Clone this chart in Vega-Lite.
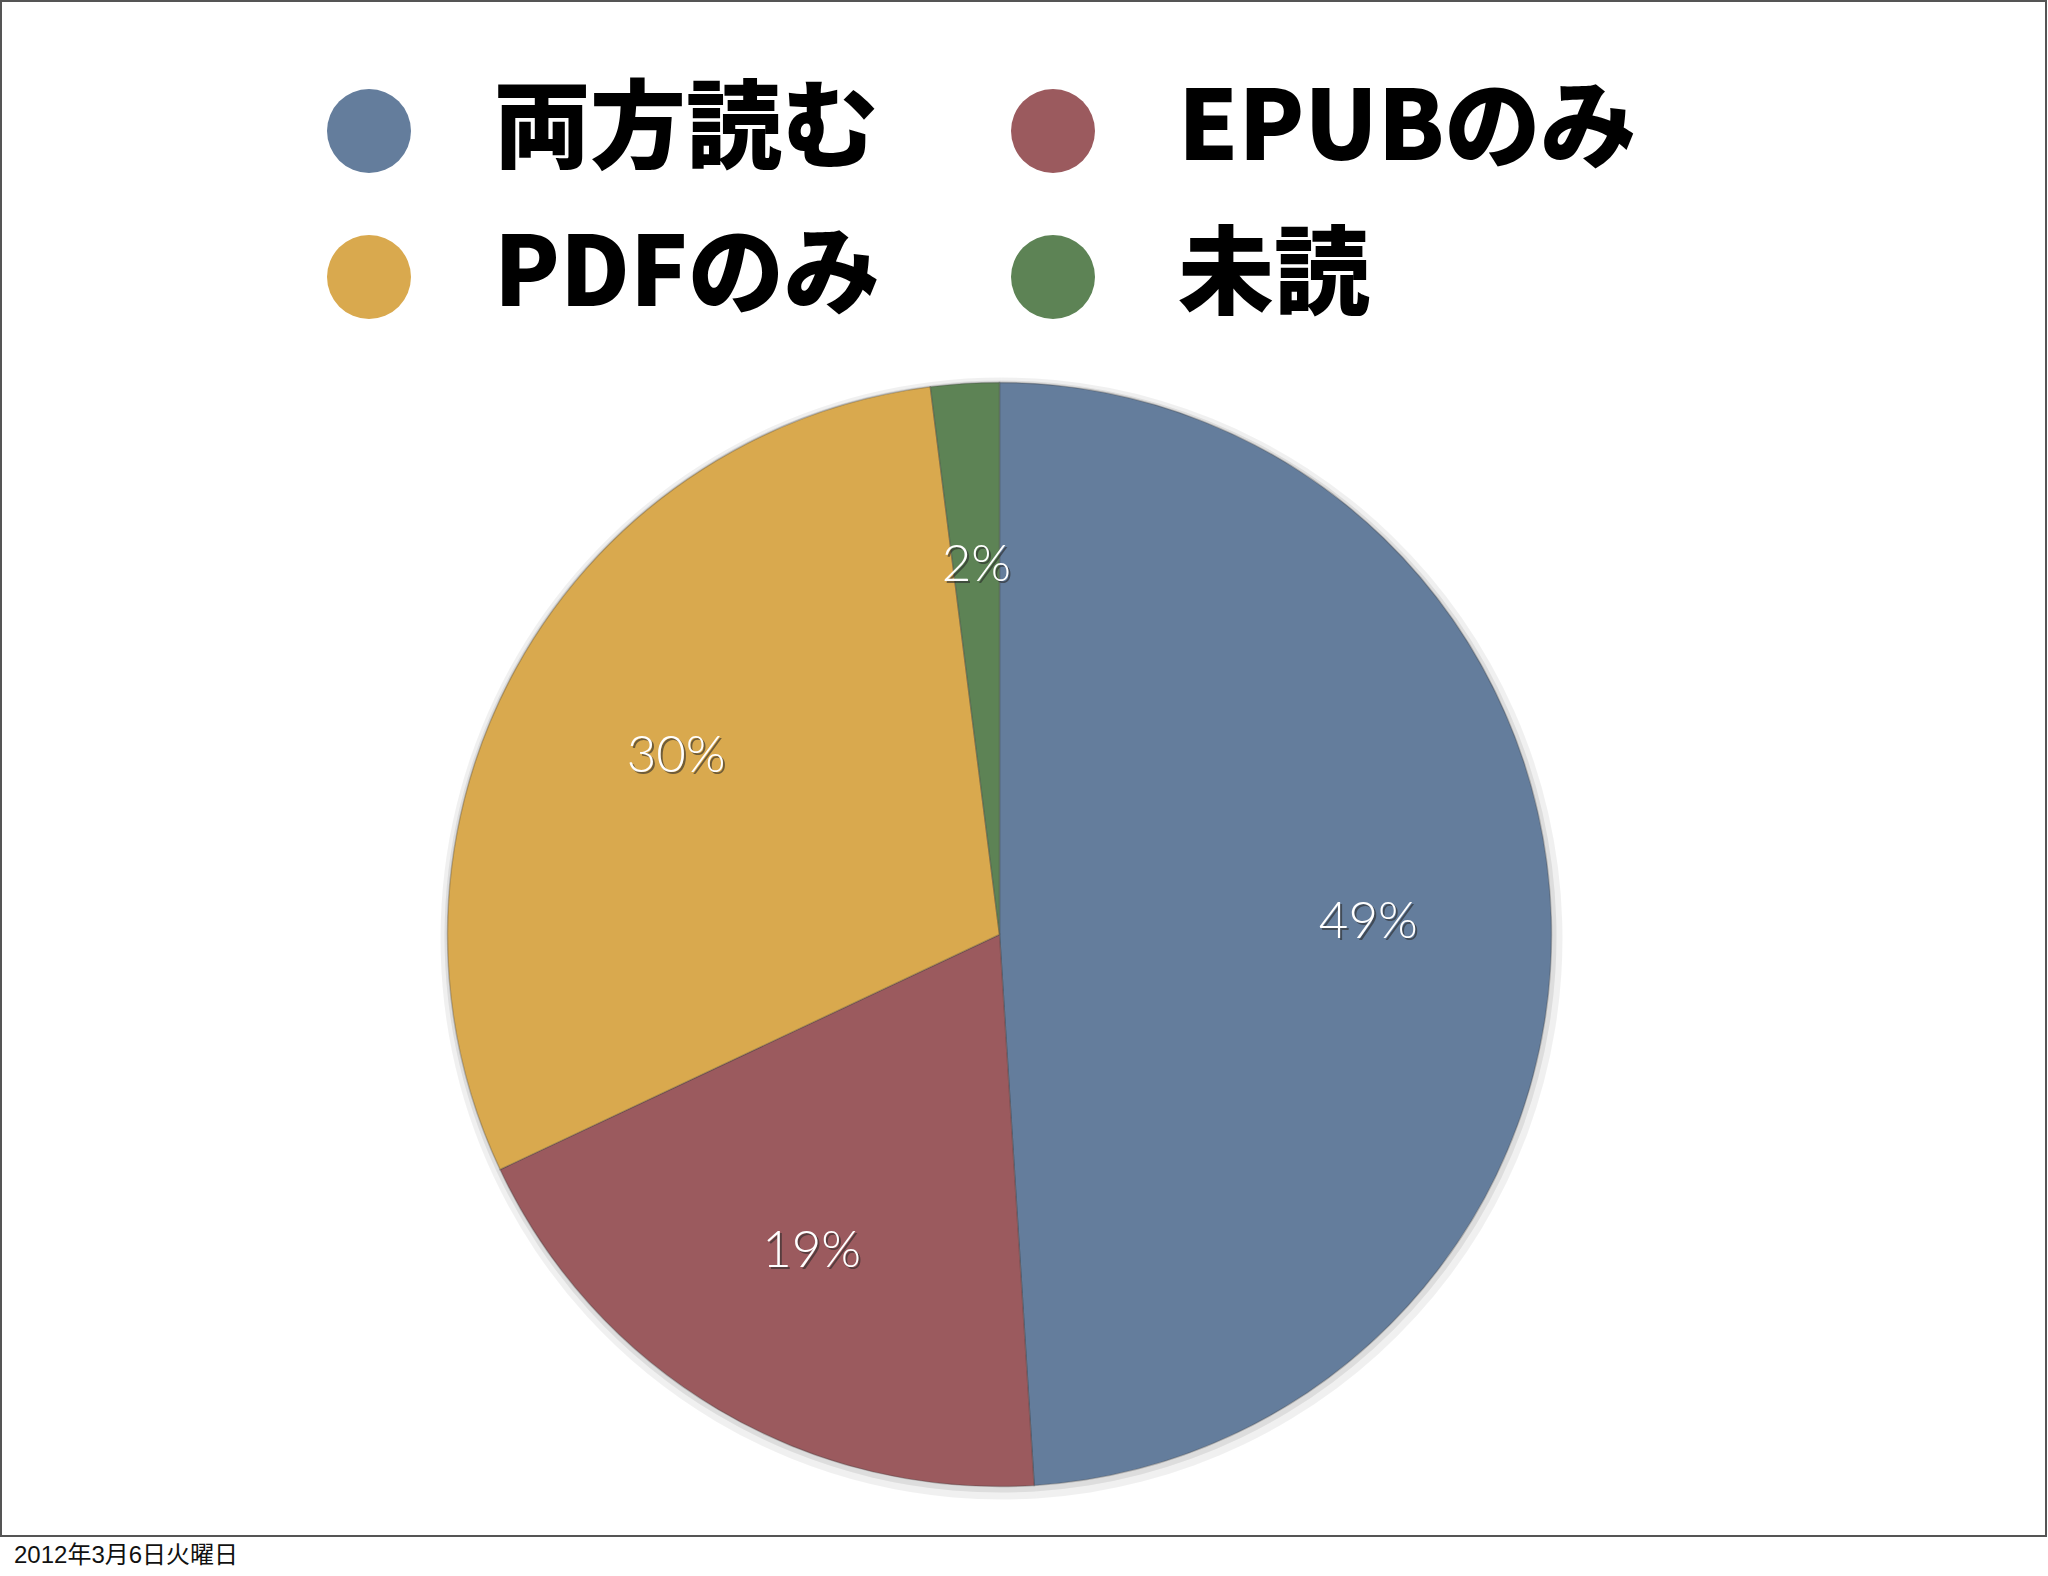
{
  "$schema": "https://vega.github.io/schema/vega-lite/v6.json",
  "width": 2045,
  "height": 1535,
  "autosize": {"type": "none"},
  "padding": {"top": 1, "left": 1, "right": 2, "bottom": 40},
  "background": "white",
  "view": {"stroke": "#555555", "strokeWidth": 2},
  "config": {
    "view": {"stroke": "#555555", "strokeWidth": 2},
    "style": {"view": {"stroke": "#555555", "strokeWidth": 2}}
  },
  "title": {
    "text": "2012年3月6日火曜日",
    "orient": "bottom",
    "anchor": "start",
    "dx": 13,
    "offset": 8,
    "font": "Liberation Sans, Noto Sans CJK JP",
    "fontSize": 24,
    "fontWeight": "normal",
    "color": "#111111"
  },
  "data": {
    "values": [
      {"group": "両方読む", "share": 0.49, "rank": 1},
      {"group": "EPUBのみ", "share": 0.19, "rank": 2},
      {"group": "PDFのみ", "share": 0.30, "rank": 3},
      {"group": "未読", "share": 0.02, "rank": 4}
    ]
  },
  "encoding": {
    "theta": {"field": "share", "type": "quantitative", "stack": true},
    "order": {"field": "rank", "type": "ordinal"}
  },
  "layer": [
    {
      "mark": {"type": "arc", "radius": 561, "fill": "#000000", "opacity": 0.06, "xOffset": -22, "yOffset": 170}
    },
    {
      "mark": {"type": "arc", "radius": 556, "fill": "#000000", "opacity": 0.08, "xOffset": -23, "yOffset": 168}
    },
    {
      "mark": {"type": "arc", "radius": 552, "xOffset": -24, "yOffset": 166, "stroke": "#3a3a3a", "strokeOpacity": 0.3, "strokeWidth": 1.5},
      "encoding": {
        "color": {
          "field": "group",
          "type": "nominal",
          "sort": null,
          "scale": {
            "domain": ["両方読む", "EPUBのみ", "PDFのみ", "未読"],
            "range": ["#647d9c", "#9b5a5e", "#d9a94e", "#5d8355"]
          },
          "legend": {
            "title": null,
            "orient": "none",
            "legendX": 320,
            "legendY": 82,
            "direction": "horizontal",
            "columns": 2,
            "symbolType": "circle",
            "symbolSize": 7056,
            "symbolStrokeWidth": 0,
            "symbolOpacity": 1,
            "labelFont": "Noto Sans CJK JP",
            "labelFontSize": 96,
            "labelFontWeight": 900,
            "labelColor": "#000000",
            "labelOffset": 77,
            "labelLimit": 0,
            "columnPadding": 125,
            "rowPadding": 50
          }
        }
      }
    },
    {
      "mark": {"type": "text", "radius": 369, "xOffset": -22, "yOffset": 168, "font": "Lato", "fontWeight": 300, "fontSize": 51, "color": "#2a2a2a", "opacity": 0.6},
      "encoding": {
        "text": {"field": "share", "type": "quantitative", "format": ".0%"}
      }
    },
    {
      "mark": {"type": "text", "radius": 369, "xOffset": -24, "yOffset": 166, "font": "Lato", "fontWeight": 300, "fontSize": 51, "color": "#ffffff"},
      "encoding": {
        "text": {"field": "share", "type": "quantitative", "format": ".0%"}
      }
    }
  ]
}
